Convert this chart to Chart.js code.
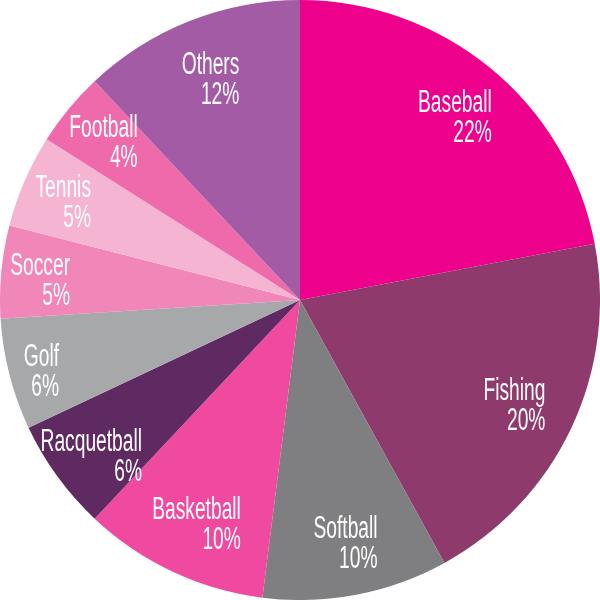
<!DOCTYPE html>
<html>
<head>
<meta charset="utf-8">
<script src="https://cdn.jsdelivr.net/npm/chart.js@4.4.1/dist/chart.umd.min.js"></script>
<style>
  html, body { margin: 0; padding: 0; background: #fff; }
  #wrap { width: 600px; height: 600px; }
</style>
</head>
<body>
<div id="wrap"><canvas id="myChart" width="600" height="600"></canvas></div>
<script>
var sports = ['Baseball', 'Fishing', 'Softball', 'Basketball', 'Racquetball', 'Golf', 'Soccer', 'Tennis', 'Football', 'Others'];
var shares = [22, 20, 10, 10, 6, 6, 5, 5, 4, 12];
var sliceColors = ['#ec008c', '#8f3a6c', '#7f7f81', '#ef4aa0', '#5f2a62', '#a7a8aa', '#f186b8', '#f5b4d1', '#ee6aab', '#a45ba6'];

// how far out each label sits (fraction of the radius)
var labelDist = [0.81, 0.79, 0.81, 0.81, 0.86, 0.89, 0.87, 0.86, 0.85, 0.81];

var sliceLabels = {
  id: 'sliceLabels',
  afterDatasetsDraw: function(chart) {
    var ctx = chart.ctx;
    var meta = chart.getDatasetMeta(0);
    ctx.save();
    ctx.fillStyle = '#fff';
    ctx.font = '500 31px "Liberation Sans", Arial, sans-serif';
    ctx.textBaseline = 'middle';
    meta.data.forEach(function(arc, i) {
      var mid = (arc.startAngle + arc.endAngle) / 2;
      var r = arc.outerRadius * labelDist[i];
      var cx = arc.x + Math.cos(mid) * r;
      var cy = arc.y + Math.sin(mid) * r;
      var lines = [sports[i], shares[i] + '%'];
      ctx.save();
      ctx.translate(cx, cy);
      ctx.scale(0.62, 1);
      var w = Math.max(ctx.measureText(lines[0]).width, ctx.measureText(lines[1]).width);
      ctx.textAlign = 'right';
      ctx.fillText(lines[0], w / 2, -9);
      ctx.fillText(lines[1], w / 2, 21);
      ctx.restore();
    });
    ctx.restore();
  }
};

var ctx = document.getElementById('myChart').getContext('2d');
var myChart = new Chart(ctx, {
  type: 'pie',
  data: {
    labels: sports,
    datasets: [{
      data: shares,
      backgroundColor: sliceColors,
      borderWidth: 0
    }]
  },
  options: {
    responsive: false,
    animation: false,
    layout: { padding: 0 },
    plugins: {
      legend: { display: false },
      tooltip: { enabled: false }
    }
  },
  plugins: [sliceLabels]
});
</script>
</body>
</html>
